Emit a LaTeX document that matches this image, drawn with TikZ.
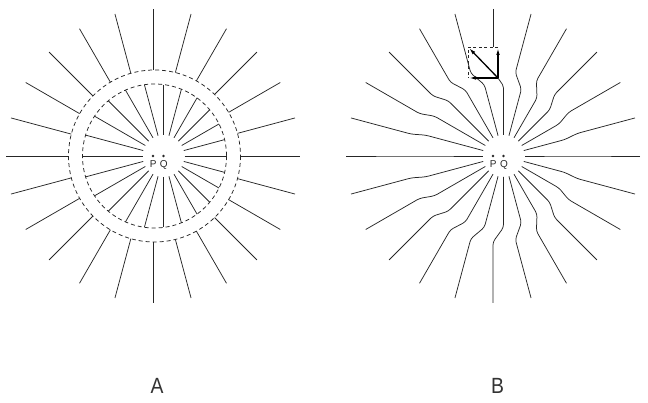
\documentclass[tikz,border=0pt]{standalone}
\usepackage{fontspec}
\setmainfont{Liberation Sans}
\usetikzlibrary{arrows.meta}
\begin{document}
\begin{tikzpicture}[x=1pt,y=-1pt,
  ray/.style={line width=0.75pt, draw=black!85},
  ring/.style={line width=0.75pt, draw=black!85, dash pattern=on 4pt off 3pt},
  boxedge/.style={line width=0.8pt, draw=black!85, dash pattern=on 3pt off 2.5pt},
  vec/.style={line width=1.3pt, draw=black, -{Latex[length=7pt,width=3.6pt]}},
  lbl/.style={font=\fontsize{10}{10}\selectfont, anchor=base, inner sep=0pt, text=black!85},
  big/.style={font=\fontsize{22}{22}\selectfont, anchor=base, inner sep=0pt, text=black!80}]
\useasboundingbox (0,0) rectangle (648,403);
% ---------------- Figure A ----------------
% P=(153,156), Q=(163.5,156), ring centre C=(154.5,156)
\draw[ring] (154.5,156) circle[radius=86];
\draw[ring] (154.5,156) circle[radius=72];
\foreach \a in {0,15,...,345}{
  \pgfmathsetmacro\cc{cos(\a)}
  \pgfmathsetmacro\ss{sin(\a)}
  \pgfmathsetmacro\tO{1.5*\cc + sqrt(2.25*\cc*\cc - 2.25 + 86*86)}
  \pgfmathsetmacro\tI{-9*\cc + sqrt(81*\cc*\cc - 81 + 72*72)}
  \draw[ray] ({153+\tO*\cc},{156+\tO*\ss}) -- ({153+147*\cc},{156+147*\ss});
  \draw[ray] ({163.5+21*\cc},{156+21*\ss}) -- ({163.5+\tI*\cc},{156+\tI*\ss});
}
\fill[black!85] (153,156) circle[radius=1.3];
\fill[black!85] (163.5,156) circle[radius=1.3];
\node[lbl] (pA) at (153.3,167.5) {P};
\node[lbl] (qA) at (163.8,167.5) {Q};
\node[big] (labA) at (157,393) {\scalebox{0.88}[1]{A}};
% ---------------- Figure B ----------------
% P=(493,156), Q=(503.5,156), C=(494.5,156)
\foreach \a in {0,15,...,345}{
  \ifnum\a=270\relax\else
  \pgfmathsetmacro\cc{cos(\a)}
  \pgfmathsetmacro\ss{sin(\a)}
  \pgfmathsetmacro\tO{1.5*\cc + sqrt(2.25*\cc*\cc - 2.25 + 86*86)}
  \pgfmathsetmacro\tI{-9*\cc + sqrt(81*\cc*\cc - 81 + 72*72)}
  \draw[ray, rounded corners=3pt] ({493+147*\cc},{156+147*\ss}) -- ({493+\tO*\cc},{156+\tO*\ss})
     -- ({503.5+\tI*\cc},{156+\tI*\ss}) -- ({503.5+21*\cc},{156+21*\ss});
  \fi
}
% top ray with the displacement box
\coordinate (topend) at (493,9);
\coordinate (boxtl) at (468,47);
\coordinate (boxtr) at (498,47);
\coordinate (boxbr) at (498,78);
\coordinate (boxbl) at (468,78);
\coordinate (kink) at (503.5,86);
\coordinate (innerend) at (503.5,135);
\draw[ray] (topend) -- (493,47);
\draw[ray, rounded corners=2pt] (boxbr) -- (kink) -- (innerend);
\draw[boxedge] (boxtr) -- (boxtl) -- (boxbl);
\draw[vec] (boxbr) -- (498,48);
\draw[vec] (boxbr) -- (469,78);
\draw[vec] (boxbr) -- (469,48);
\fill[black!85] (493,156) circle[radius=1.3];
\fill[black!85] (503.5,156) circle[radius=1.3];
\node[lbl] (pB) at (493.3,168) {P};
\node[lbl] (qB) at (504,168) {Q};
\node[big] (labB) at (497.5,393) {\scalebox{0.88}[1]{B}};
\end{tikzpicture}
\end{document}
